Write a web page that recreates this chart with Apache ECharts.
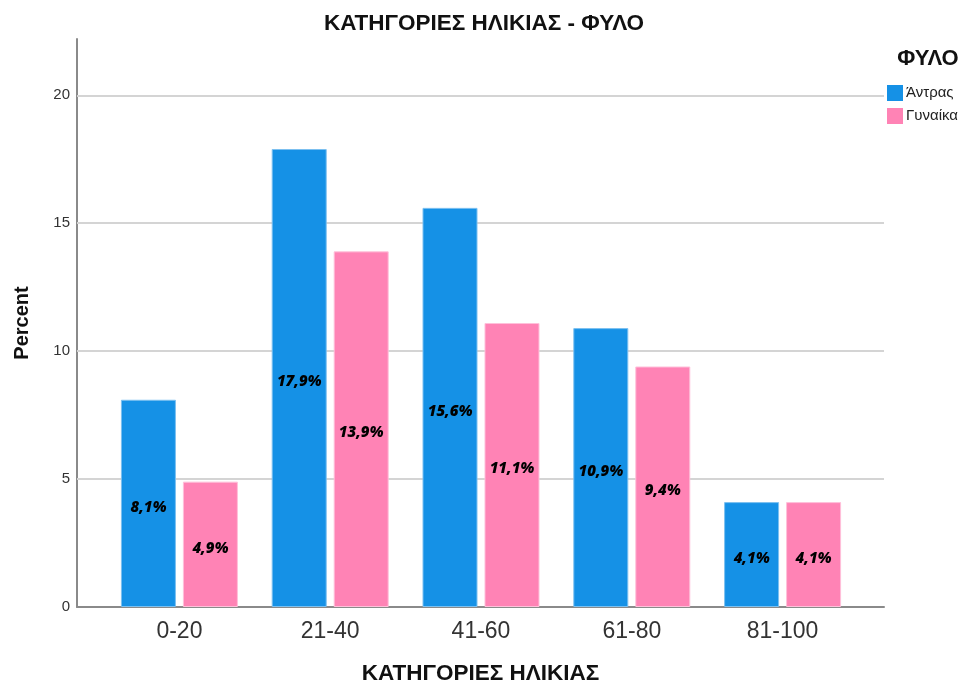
<!DOCTYPE html>
<html>
<head>
<meta charset="utf-8">
<script src="https://cdn.jsdelivr.net/npm/echarts@6/dist/echarts.min.js"></script>
<style>
  html, body { margin: 0; padding: 0; background: #fff; }
  #chart { width: 975px; height: 684px; }
</style>
</head>
<body>
<div id="chart"></div>
<script>
// Age groups and percentage of respondents per sex
const categories = ['0-20', '21-40', '41-60', '61-80', '81-100'];
const menValues = [8.1, 17.9, 15.6, 10.9, 4.1];
const womenValues = [4.9, 13.9, 11.1, 9.4, 4.1];
const yTicks = [0, 5, 10, 15, 20];
const seriesNames = ['Άντρας', 'Γυναίκα'];

const Y_MAX = 22.2;
const FONT = 'Liberation Sans, Arial, sans-serif';

const chart = echarts.init(document.getElementById('chart'), null, { renderer: 'canvas' });

const pctLabel = {
  show: true,
  position: 'inside',
  offset: [0, 4],
  color: '#000',
  fontFamily: 'Open Sans, DejaVu Sans, sans-serif',
  fontWeight: 800,
  fontStyle: 'italic',
  fontSize: 15,
  formatter: p => p.value.toFixed(1).replace('.', ',') + '%'
};

chart.setOption({
  animation: false,
  backgroundColor: '#fff',
  textStyle: { fontFamily: FONT },
  title: [
    {
      text: 'ΚΑΤΗΓΟΡΙΕΣ ΗΛΙΚΙΑΣ - ΦΥΛΟ',
      left: 484, top: 12, textAlign: 'center', padding: 0,
      textStyle: { fontFamily: FONT, fontSize: 22.5, fontWeight: 'bold', color: '#111' }
    },
    {
      text: 'ΦΥΛΟ',
      left: 928, top: 48, textAlign: 'center', padding: 0,
      textStyle: { fontFamily: FONT, fontSize: 22, fontWeight: 'bold', color: '#111' }
    }
  ],
  legend: {
    orient: 'vertical',
    left: 887, top: 85,
    padding: 0,
    itemWidth: 16, itemHeight: 16, itemGap: 7,
    icon: 'rect',
    data: seriesNames,
    itemStyle: { borderWidth: 0 },
    textStyle: { fontFamily: FONT, fontSize: 15, color: '#222', padding: [0, 0, 0, -2] }
  },
  grid: [
    { left: 77, right: 91, top: 39, bottom: 77, outerBoundsMode: 'none', containLabel: false },
    { left: 104, right: 117, top: 39, bottom: 77, outerBoundsMode: 'none', containLabel: false }
  ],
  xAxis: [
    {
      gridIndex: 0, type: 'value', min: 0, max: 1,
      axisLine: { show: true, onZero: false, lineStyle: { color: '#8a8a8a', width: 2 } },
      axisTick: { show: false }, axisLabel: { show: false }, splitLine: { show: false },
      name: 'ΚΑΤΗΓΟΡΙΕΣ ΗΛΙΚΙΑΣ', nameLocation: 'middle', nameGap: 55,
      nameTextStyle: { fontFamily: FONT, fontSize: 22.5, fontWeight: 'bold', color: '#111' }
    },
    {
      gridIndex: 1, type: 'category', data: categories,
      axisLine: { show: false }, axisTick: { show: false },
      axisLabel: { fontFamily: FONT, fontSize: 23, color: '#333', margin: 13 }
    }
  ],
  yAxis: [
    {
      gridIndex: 0, type: 'value', min: 0, max: Y_MAX, interval: 5,
      axisLine: { show: true, lineStyle: { color: '#8a8a8a', width: 2 } },
      axisTick: { show: false },
      splitLine: { show: false },
      axisLabel: {
        fontFamily: FONT, fontSize: 15, color: '#333', margin: 7,
        showMaxLabel: false,
        formatter: v => (yTicks.includes(v) ? String(v) : '')
      },
      name: 'Percent', nameLocation: 'middle', nameGap: 45, nameRotate: 90,
      nameTextStyle: { fontFamily: FONT, fontSize: 20, fontWeight: 'bold', color: '#111' }
    },
    { gridIndex: 1, type: 'value', min: 0, max: Y_MAX, show: false, splitLine: { show: false } }
  ],
  series: [
    {
      // horizontal reference lines behind the bars
      type: 'line', xAxisIndex: 0, yAxisIndex: 0, data: [], silent: true,
      markLine: {
        silent: true, symbol: 'none',
        label: { show: false },
        lineStyle: { color: '#d4d4d4', width: 2, type: 'solid' },
        data: yTicks.filter(v => v > 0).map(v => ({ yAxis: v }))
      }
    },
    {
      name: seriesNames[0], type: 'bar', xAxisIndex: 1, yAxisIndex: 1, z: 10,
      data: menValues, barWidth: 55, barGap: '12.7%',
      itemStyle: { color: '#1591e6', borderColor: '#7cc0f0', borderWidth: 1 },
      label: pctLabel
    },
    {
      name: seriesNames[1], type: 'bar', xAxisIndex: 1, yAxisIndex: 1, z: 10,
      data: womenValues, barWidth: 55, barGap: '12.7%',
      itemStyle: { color: '#ff83b5', borderColor: '#ffc0da', borderWidth: 1 },
      label: pctLabel
    }
  ]
});
</script>
</body>
</html>
